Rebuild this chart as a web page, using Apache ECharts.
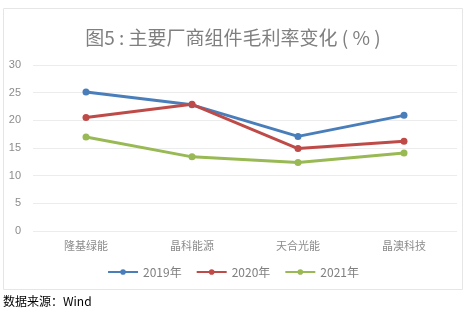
<!DOCTYPE html>
<html><head><meta charset="utf-8">
<script src="https://cdn.jsdelivr.net/npm/echarts@6/dist/echarts.min.js"></script>
<style>html,body{margin:0;padding:0;background:#fff}#c{width:466px;height:314px}</style>
</head><body><div id="c"></div>
<script>
const categories = ['隆基绿能','晶科能源','天合光能','晶澳科技'];
const s2019 = [25.1, 22.8, 17.1, 20.9];
const s2020 = [20.5, 22.9, 14.9, 16.2];
const s2021 = [17.0, 13.4, 12.4, 14.1];
const yTicks = [0, 5, 10, 15, 20, 25, 30];
const seriesNames = ['2019年','2020年','2021年'];
const colors = ['#4a7ebb','#be4b48','#98b954'];
const chart = echarts.init(document.getElementById('c'));
const mk = (name, data, color) => ({
  name, type: 'line', data, symbol: 'circle', symbolSize: 7,
  lineStyle: { width: 3, color }, itemStyle: { color }
});
chart.setOption({
  animation: false,
  title: { text: '图5 : 主要厂商组件毛利率变化 ( % )', left: 'center', top: 23,
    textStyle: { fontSize: 19, fontWeight: 'normal', color: '#7f7f7f', fontFamily: 'Noto Sans CJK SC' } },
  legend: { bottom: 31, itemWidth: 30, itemHeight: 7, itemGap: 14,
    textStyle: { color: '#7f7f7f', fontSize: 12, fontFamily: 'Noto Sans CJK SC' },
    data: seriesNames },
  grid: { left: 33, right: 9, top: 65, bottom: 83 },
  xAxis: { type: 'category', data: categories,
    axisLine: { show: false }, axisTick: { show: false },
    axisLabel: { color: '#8c8c8c', fontSize: 11, margin: 9, fontFamily: 'Noto Sans CJK SC' } },
  yAxis: { type: 'value', min: yTicks[0], max: yTicks[yTicks.length-1], interval: 5,
    axisLabel: { color: '#8c8c8c', fontSize: 11, margin: 12 },
    splitLine: { lineStyle: { color: '#ececec' } } },
  graphic: [
    { type: 'rect', shape: { x: 3.5, y: 8.5, width: 459, height: 281 },
      style: { fill: 'none', stroke: '#e6e6e6', lineWidth: 1 }, z: -1 },
    { type: 'text', left: 3, top: 295,
      style: { text: '数据来源：Wind', fontSize: 12, fill: '#000', fontFamily: 'Noto Sans CJK SC' } }
  ],
  series: [mk(seriesNames[0], s2019, colors[0]), mk(seriesNames[1], s2020, colors[1]), mk(seriesNames[2], s2021, colors[2])]
});
</script></body></html>
